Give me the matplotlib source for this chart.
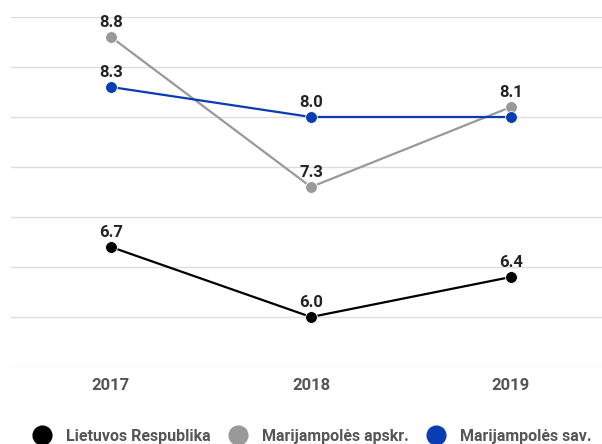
import matplotlib
matplotlib.use("Agg")
import matplotlib.pyplot as plt
from matplotlib.lines import Line2D

years = ["2017", "2018", "2019"]
series_names = ["Lietuvos Respublika", "Marijampolės apskr.", "Marijampolės sav."]
lr = [6.7, 6.0, 6.4]
apskr = [8.8, 7.3, 8.1]
sav = [8.3, 8.0, 8.0]
colors = ["#000000", "#999999", "#0a3cb4"]

plt.rcParams['font.family'] = ['Roboto', 'DejaVu Sans']

fig = plt.figure(figsize=(6.02, 4.44), dpi=100)
ax = fig.add_axes([11/602, 77/444, 1 - 11/602, (444 - 77 - 17)/444])
ax.set_xlim(-0.5, (602 - 111) / 200)
ax.set_ylim(5.5, 9.0)

for s in ax.spines.values():
    s.set_visible(False)
ax.set_yticks([5.5, 6.0, 6.5, 7.0, 7.5, 8.0, 8.5, 9.0])
ax.set_yticklabels([])
ax.tick_params(axis='y', length=0)
ax.grid(axis='y', color='#dddddd', linewidth=1)
ax.set_axisbelow(True)

x = list(range(len(years)))
ax.set_xticks(x)
ax.set_xticklabels(years, fontsize=12, color='#555555', fontweight='semibold')
ax.tick_params(axis='x', length=0, pad=8)

all_series = [lr, apskr, sav]
for vals, c in zip(all_series, colors):
    ax.plot(x, vals, color=c, linewidth=1.6, marker='o', markersize=8.5,
            markeredgecolor='white', markeredgewidth=0.6, clip_on=False, zorder=3)

for si, (vals, c) in enumerate(zip(all_series, colors)):
    for xi, v in zip(x, vals):
        hide = any(abs(o[xi] - v) < 0.2 and o[xi] > v for j, o in enumerate(all_series) if j != si)
        if hide:
            continue
        ax.annotate(f"{v:.1f}", (xi, v), xytext=(0, 5), textcoords='offset points',
                    ha='center', va='bottom', fontsize=12, color='#222222',
                    fontweight='semibold', zorder=4)

handles = [Line2D([], [], linestyle='none', marker='o', markersize=13.5,
                  markerfacecolor=c, markeredgecolor=c) for c in colors]
fig.legend(handles, series_names, loc='center', bbox_to_anchor=(313/602, 8/444),
           ncol=3, frameon=False, prop={'size': 11.5, 'weight': 'semibold'},
           labelcolor='#555555',
           handletextpad=1.0, columnspacing=1.2, handlelength=1.0)

fig.savefig("out.png", dpi=100)
